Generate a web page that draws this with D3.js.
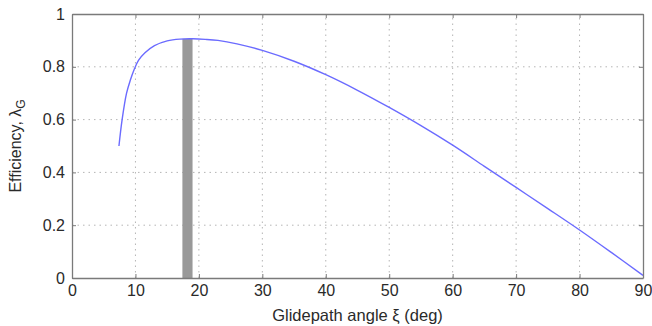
<!DOCTYPE html>
<html><head><meta charset="utf-8">
<script src="https://cdn.jsdelivr.net/npm/d3@7"></script>
<style>body{margin:0;background:#fff}svg{display:block}</style>
</head><body>
<svg id="c" width="652" height="326"></svg>
<script>
const angles = [7.4,7.9,8.6,9.2,9.8,10.5,11.5,13,15,17,19,21,23,26,30,35,40,45,50,55,60,65,70,75,80,85,90];
const efficiency = [0.5,0.6,0.7,0.75,0.79,0.825,0.853,0.88,0.898,0.905,0.906,0.904,0.9,0.887,0.862,0.821,0.77,0.711,0.646,0.577,0.503,0.423,0.343,0.263,0.182,0.097,0.01];
const barRange = [17.4, 19.0];
const barValue = [0.906];
const xTicks = [0,10,20,30,40,50,60,70,80,90];
const yTicks = [0,0.2,0.4,0.6,0.8,1];

const svg = d3.select("#c");
const m = {l:72, r:9, t:14, b:48};
const W = 652, H = 326;
const x = d3.scaleLinear().domain([0,90]).range([m.l, W-m.r]);
const y = d3.scaleLinear().domain([0,1]).range([H-m.b, m.t]);
const gridCol = "#b5b5b5", frameCol = "#7a7a7a", txt = "#2a2a2a";
const font = "'Liberation Sans', Arial, sans-serif";

// grid
svg.append("g").selectAll("line").data(xTicks.slice(1,-1)).join("line")
  .attr("x1",d=>x(d)).attr("x2",d=>x(d)).attr("y1",y(0)).attr("y2",y(1))
  .attr("stroke",gridCol).attr("stroke-width",1).attr("stroke-dasharray","1.5,4");
svg.append("g").selectAll("line").data(yTicks.slice(1,-1)).join("line")
  .attr("y1",d=>y(d)).attr("y2",d=>y(d)).attr("x1",x(0)).attr("x2",x(90))
  .attr("stroke",gridCol).attr("stroke-width",1).attr("stroke-dasharray","1.5,4");

// bar
svg.append("rect").datum(barValue[0])
  .attr("x",x(barRange[0])).attr("width",x(barRange[1])-x(barRange[0]))
  .attr("y",d=>y(d)).attr("height",d=>y(0)-y(d)).attr("fill","#999");

// line
const line = d3.line().x((d,i)=>x(angles[i])).y(d=>y(d)).curve(d3.curveCatmullRom.alpha(0.5));
svg.append("path").datum(efficiency).attr("d",line)
  .attr("fill","none").attr("stroke","#6b6bff").attr("stroke-width",1.4);

// axes
const fs = "16px";
const ax = svg.append("g").attr("transform",`translate(0,${y(0)})`)
  .call(d3.axisBottom(x).tickValues(xTicks).tickSizeInner(-4).tickSizeOuter(0).tickPadding(7));
const ay = svg.append("g").attr("transform",`translate(${x(0)},0)`)
  .call(d3.axisLeft(y).tickValues(yTicks).tickFormat(d3.format("~g")).tickSizeInner(-4).tickSizeOuter(0).tickPadding(7));
const at = svg.append("g").attr("transform",`translate(0,${y(1)})`)
  .call(d3.axisTop(x).tickValues(xTicks).tickSizeInner(-4).tickSizeOuter(0).tickFormat(""));
const ar = svg.append("g").attr("transform",`translate(${x(90)},0)`)
  .call(d3.axisRight(y).tickValues(yTicks).tickSizeInner(-4).tickSizeOuter(0).tickFormat(""));
[ax,ay,at,ar].forEach(g=>{
  g.select(".domain").attr("stroke",frameCol).attr("stroke-width",1.3);
  g.selectAll(".tick line").attr("stroke",frameCol);
  g.selectAll("text").attr("fill",txt).style("font-family",font).style("font-size",fs);
});

svg.append("text").attr("x",(x(0)+x(90))/2).attr("y",321).attr("text-anchor","middle")
  .attr("fill",txt).style("font-family",font).style("font-size","16.5px")
  .text("Glidepath angle ξ (deg)");
const yl = svg.append("text").attr("transform",`translate(21,${(y(0)+y(1))/2}) rotate(-90)`)
  .attr("text-anchor","middle").attr("fill",txt)
  .style("font-family",font).style("font-size","16px");
yl.append("tspan").text("Efficiency, λ");
yl.append("tspan").attr("dy",4).style("font-size","12px").text("G");
</script>
</body></html>
